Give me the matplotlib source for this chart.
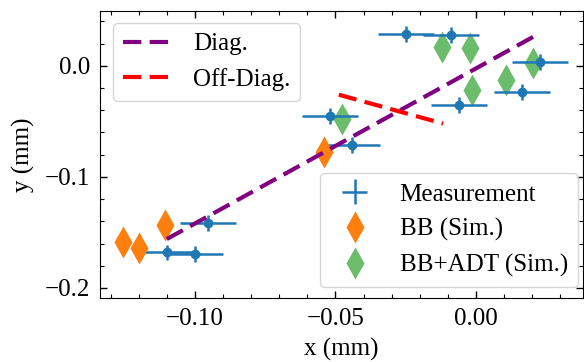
import matplotlib
matplotlib.use("Agg")
import matplotlib.pyplot as plt
from matplotlib.ticker import AutoMinorLocator

plt.rcParams['font.family'] = 'serif'
plt.rcParams['font.serif'] = ['Liberation Serif', 'DejaVu Serif']
plt.rcParams['mathtext.fontset'] = 'stix'

# measurement points
meas_x = [-0.0249, -0.0089, 0.0228, 0.0164, -0.0060, -0.0520, -0.0441, -0.0954, -0.1100, -0.1000]
meas_y = [0.0288, 0.0280, 0.0036, -0.0234, -0.0351, -0.0450, -0.0712, -0.1414, -0.1680, -0.1695]
meas_xerr = 0.010
meas_yerr = 0.007

# simulations
bb_x = [-0.0541, -0.1107, -0.1256, -0.1200]
bb_y = [-0.0780, -0.1430, -0.1585, -0.1640]
adt_x = [-0.0477, -0.0121, -0.0021, -0.0014, 0.0107, 0.0203]
adt_y = [-0.0477, 0.0171, 0.0162, -0.0216, -0.0126, 0.0027]

# fitted directions
diag_x = [-0.1100, 0.0217]
diag_y = [-0.1560, 0.0280]
off_x = [-0.0488, -0.0117]
off_y = [-0.0260, -0.0520]

fs = 18

fig = plt.figure(figsize=(5.84, 3.62), dpi=100)
ax = fig.add_axes([0.171, 0.177, 0.827, 0.793])

g, = ax.plot(adt_x, adt_y, 'd', color='#2ca02c', alpha=0.7, ms=16, mec='none',
             label='BB+ADT (Sim.)', zorder=2)
m = ax.errorbar(meas_x, meas_y, xerr=meas_xerr, yerr=meas_yerr, fmt='none',
                ecolor='#1f77b4', elinewidth=1.8, capsize=0, label='Measurement', zorder=3)
ax.plot(meas_x, meas_y, 'o', ms=6, color='#1f77b4', zorder=3)
o, = ax.plot(bb_x, bb_y, 'd', color='#ff7f0e', ms=16, mec='none',
             label='BB (Sim.)', zorder=4)
d, = ax.plot(diag_x, diag_y, '--', color='purple', lw=3, dashes=(4.4, 2.0),
             label='Diag.', zorder=5)
od, = ax.plot(off_x, off_y, '--', color='red', lw=3, dashes=(4.4, 2.0),
              label='Off-Diag.', zorder=5)

ax.set_xlim(-0.1338, 0.038)
ax.set_ylim(-0.209, 0.0495)
ax.set_xticks([-0.10, -0.05, 0.00])
ax.set_yticks([-0.2, -0.1, 0.0])
ax.xaxis.set_minor_locator(AutoMinorLocator(5))
ax.yaxis.set_minor_locator(AutoMinorLocator(5))
ax.tick_params(which='both', direction='in', top=True, right=True, labelsize=fs, pad=7)
ax.tick_params(which='major', length=5, width=1)
ax.tick_params(which='minor', length=3, width=0.8)
ax.set_xlabel('x (mm)', fontsize=fs, labelpad=6)
ax.set_ylabel('y (mm)', fontsize=fs, labelpad=7)

leg1 = ax.legend(handles=[d, od], loc='upper left', fontsize=fs,
                 bbox_to_anchor=(0.027, 0.958), borderaxespad=0)
ax.add_artist(leg1)
ax.legend(handles=[m, o, g], loc='lower right', fontsize=fs,
          bbox_to_anchor=(0.9896, 0.0383), borderaxespad=0)

fig.savefig('out.png', dpi=100)
